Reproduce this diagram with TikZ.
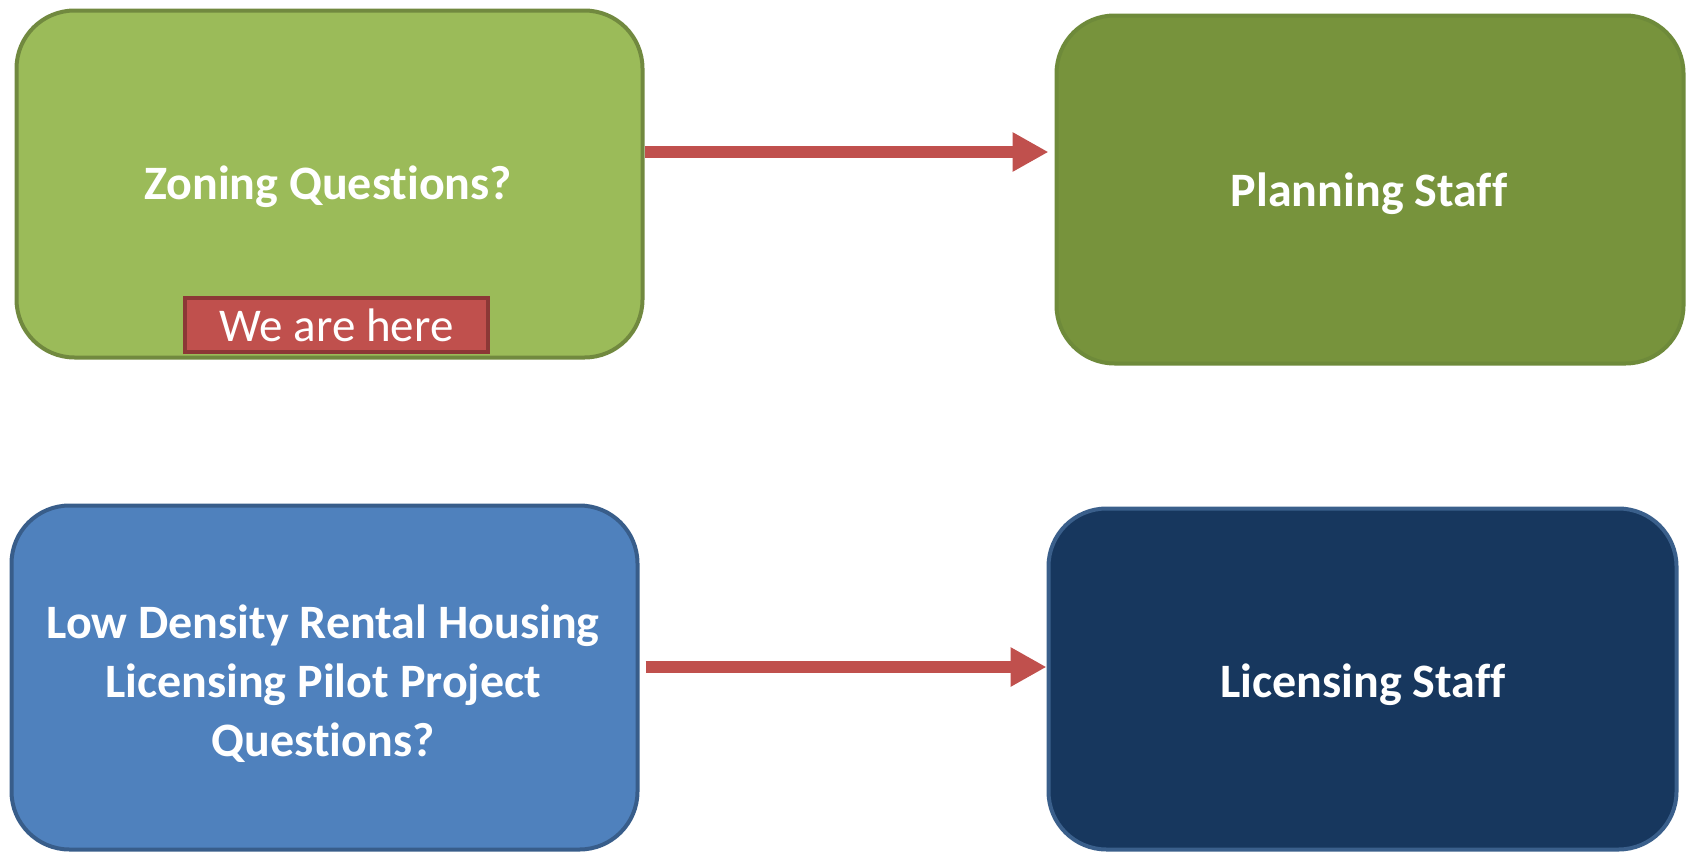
\documentclass[tikz,border=0pt]{standalone}
\usepackage{fontspec}
\setmainfont{Carlito}[Ligatures=NoCommon]
\usetikzlibrary{arrows.meta}
\definecolor{gfill}{HTML}{9BBB59}
\definecolor{gline}{HTML}{71893F}
\definecolor{pfill}{HTML}{77933C}
\definecolor{pline}{HTML}{6E8A3A}
\definecolor{bfill}{HTML}{4F81BD}
\definecolor{bline}{HTML}{385D8A}
\definecolor{nfill}{HTML}{17375E}
\definecolor{nline}{HTML}{3A5F8B}
\definecolor{rfill}{HTML}{C0504D}
\definecolor{rline}{HTML}{8C3836}
\tikzset{
  box/.style={rectangle, rounded corners=58pt, line width=4pt, inner sep=0pt},
  lbl/.style={text=white, font=\fontsize{48}{59}\selectfont\bfseries, align=center, inner sep=0pt},
  tag/.style={rectangle, fill=rfill, draw=rline, line width=3.5pt, text=white,
    font=\fontsize{47}{52}\selectfont, inner sep=0pt, minimum width=303pt, minimum height=54pt},
  arr/.style={draw=rfill, line width=12pt, -{Triangle[length=36pt,width=37pt]}}
}
\begin{document}
\begin{tikzpicture}[x=1pt,y=1pt]
\useasboundingbox (0,0) rectangle (1689,-854);
\node[box, fill=gfill, draw=gline, minimum width=626pt, minimum height=347pt] (zq) at (329.5,-184) {};
\node[box, fill=pfill, draw=pline, minimum width=627pt, minimum height=348pt] (ps) at (1370,-189.5) {};
\node[box, fill=bfill, draw=bline, minimum width=626pt, minimum height=344pt] (lq) at (324.5,-677.5) {};
\node[box, fill=nfill, draw=nline, minimum width=628pt, minimum height=341pt] (ls) at (1362.5,-679) {};
\node[lbl] (zqt) at (328,-187) {Zoning Questions?};
\node[lbl] (pst) at (1369,-194) {Planning Staff};
\node[lbl] (lqt) at (323,-684) {Low Density Rental Housing\\Licensing Pilot Project\\Questions?};
\node[lbl] (lst) at (1363,-685) {Licensing Staff};
\node[tag] (here) at (336.5,-325) {We are here};
\coordinate (a1) at ([yshift=32pt]zq.east);
\coordinate (a2) at ([yshift=10.5pt]lq.east);
\draw[arr, shorten >=6pt] (a1) -- (a1 -| ps.west);
\draw[arr, shorten <=6pt] (a2) -- (a2 -| ls.west);
\end{tikzpicture}
\end{document}
